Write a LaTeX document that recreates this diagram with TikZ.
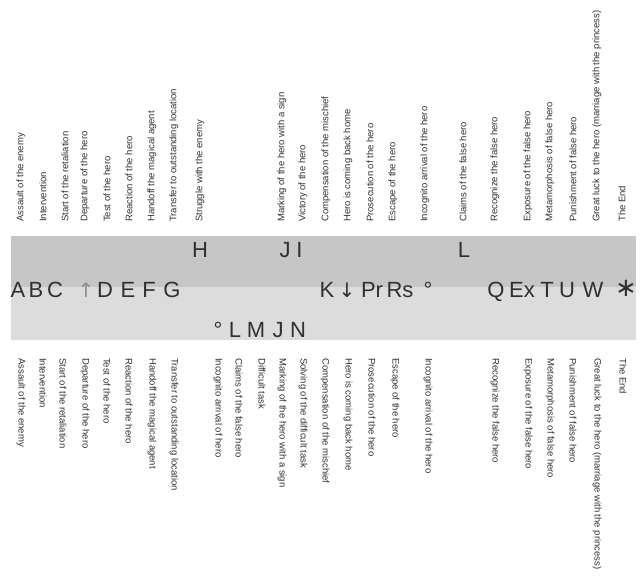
\documentclass[tikz,border=0pt]{standalone}
\usepackage{fontspec}
\setmainfont{Liberation Sans}
\newfontfamily\symfont{DejaVu Sans}
\usepackage{xcolor}
\usepackage{tikz}
\definecolor{ink}{HTML}{303030}
\definecolor{inklt}{HTML}{8C8C8C}
\definecolor{bandtop}{HTML}{C6C6C6}
\definecolor{bandbot}{HTML}{DCDCDC}

\begin{document}
\begin{tikzpicture}[x=1pt, y=-1pt,
  fn/.style={anchor=base, inner sep=0pt, text=ink, font=\fontsize{22}{24}\selectfont},
  up/.style={rotate=90, anchor=west, inner sep=0pt, text=ink, font=\fontsize{9.5}{10}\selectfont},
  dn/.style={rotate=-90, anchor=west, inner sep=0pt, text=ink, font=\fontsize{9.5}{10}\selectfont}]
\useasboundingbox (0,0) rectangle (643,576);
\fill[bandtop] (11,236) rectangle (636,287);
\fill[bandbot] (11,287) rectangle (636,340);
% main row
\node[fn] (A) at (18,297) {A};
\node[fn] (B) at (36,297) {B};
\node[fn] (C) at (55,297) {C};
\node[fn, text=inklt, font=\symfont\fontsize{20}{24}\selectfont] (up) at (86,297) {↑};
\node[fn] (D) at (105,297) {D};
\node[fn] (E) at (128,297) {E};
\node[fn] (F) at (149,297) {F};
\node[fn] (G) at (172,297) {G};
\node[fn] (K) at (327,297) {K};
\node[fn, font=\symfont\fontsize{20}{24}\selectfont] (down) at (347,297) {↓};
\node[fn] (Pr) at (372,297) {Pr};
\node[fn] (Rs) at (400,297) {Rs};
\node[fn] (deg1) at (428,297) {°};
\node[fn] (Q) at (496,297) {Q};
\node[fn] (Ex) at (522,297) {Ex};
\node[fn] (T) at (547,297) {T};
\node[fn] (U) at (567,297) {U};
\node[fn] (W) at (593,297) {W};
\node[fn, font=\symfont\fontsize{26}{28}\selectfont] (end) at (626,296) {∗};
% upper row
\node[fn] (H) at (200,257) {H};
\node[fn] (J1) at (285,257) {J};
\node[fn] (I) at (299.5,257) {I};
\node[fn] (L1) at (464,257) {L};
% lower row
\node[fn] (deg2) at (218,337) {°};
\node[fn] (L2) at (235,337) {L};
\node[fn] (M) at (256,337) {M};
\node[fn] (J2) at (278,337) {J};
\node[fn] (N) at (298,337) {N};
% labels above
\node[up] (ta) at (21,222) {Assault of the enemy};
\node[up] (tb) at (43,222) {Intervention};
\node[up] (tc) at (65,222) {Start of the retaliation};
\node[up] (tup) at (85,222) {Departure of the hero};
\node[up] (td) at (107,222) {Test of the hero};
\node[up] (te) at (129,222) {Reaction of the hero};
\node[up] (tf) at (152,222) {Handoff the magical agent};
\node[up] (tg) at (174,222) {Transfer to outstanding location};
\node[up] (th) at (200,222) {Struggle with the enemy};
\node[up] (tj) at (282,222) {Marking of the hero with a sign};
\node[up] (ti) at (303,222) {Victory of the hero};
\node[up] (tk) at (326,222) {Compensation of the mischief};
\node[up] (tdown) at (348,222) {Hero is coming back home};
\node[up] (tpr) at (370,222) {Prosecution of the hero};
\node[up] (trs) at (393,222) {Escape of the hero};
\node[up] (tdeg) at (425,222) {Incognito arrival of the hero};
\node[up] (tl) at (463,222) {Claims of the false hero};
\node[up] (tq) at (495,222) {Recognize the false hero};
\node[up] (tex) at (528,222) {Exposure of the false hero};
\node[up] (tt) at (550,222) {Metamorphosis of false hero};
\node[up] (tu) at (573,222) {Punishment of false hero};
\node[up] (tw) at (597,222) {Great luck to the hero (marriage with the princess)};
\node[up] (tend) at (622,222) {The End};
% labels below
\node[dn] (ba) at (21,358) {Assault of the enemy};
\node[dn] (bb) at (43,358) {Intervention};
\node[dn] (bc) at (63,358) {Start of the retaliation};
\node[dn] (bup) at (85,358) {Departure of the hero};
\node[dn] (bd) at (107,358) {Test of the hero};
\node[dn] (be) at (129,358) {Reaction of the hero};
\node[dn] (bf) at (152,358) {Handoff the magical agent};
\node[dn] (bg) at (174,358) {Transfer to outstanding location};
\node[dn] (bdeg) at (218,358) {Incognito arrival of hero};
\node[dn] (bl) at (239,358) {Claims of the false hero};
\node[dn] (bm) at (262,358) {Difficult task};
\node[dn] (bj) at (282,358) {Marking of the hero with a sign};
\node[dn] (bn) at (303,358) {Solving of the difficult task};
\node[dn] (bk) at (325,358) {Compensation of the mischief};
\node[dn] (bdown) at (348,358) {Hero is coming back home};
\node[dn] (bpr) at (372,358) {Prosecution of the hero};
\node[dn] (brs) at (395,358) {Escape of the hero};
\node[dn] (bdeg2) at (428,358) {Incognito arrival of the hero};
\node[dn] (bq) at (495,358) {Recognize the false hero};
\node[dn] (bex) at (528,358) {Exposure of the false hero};
\node[dn] (bt) at (550,358) {Metamorphosis of false hero};
\node[dn] (bu) at (573,358) {Punishment of false hero};
\node[dn] (bw) at (597,358) {Great luck to the hero (marriage with the princess)};
\node[dn] (bend) at (623,358) {The End};
\end{tikzpicture}
\end{document}
